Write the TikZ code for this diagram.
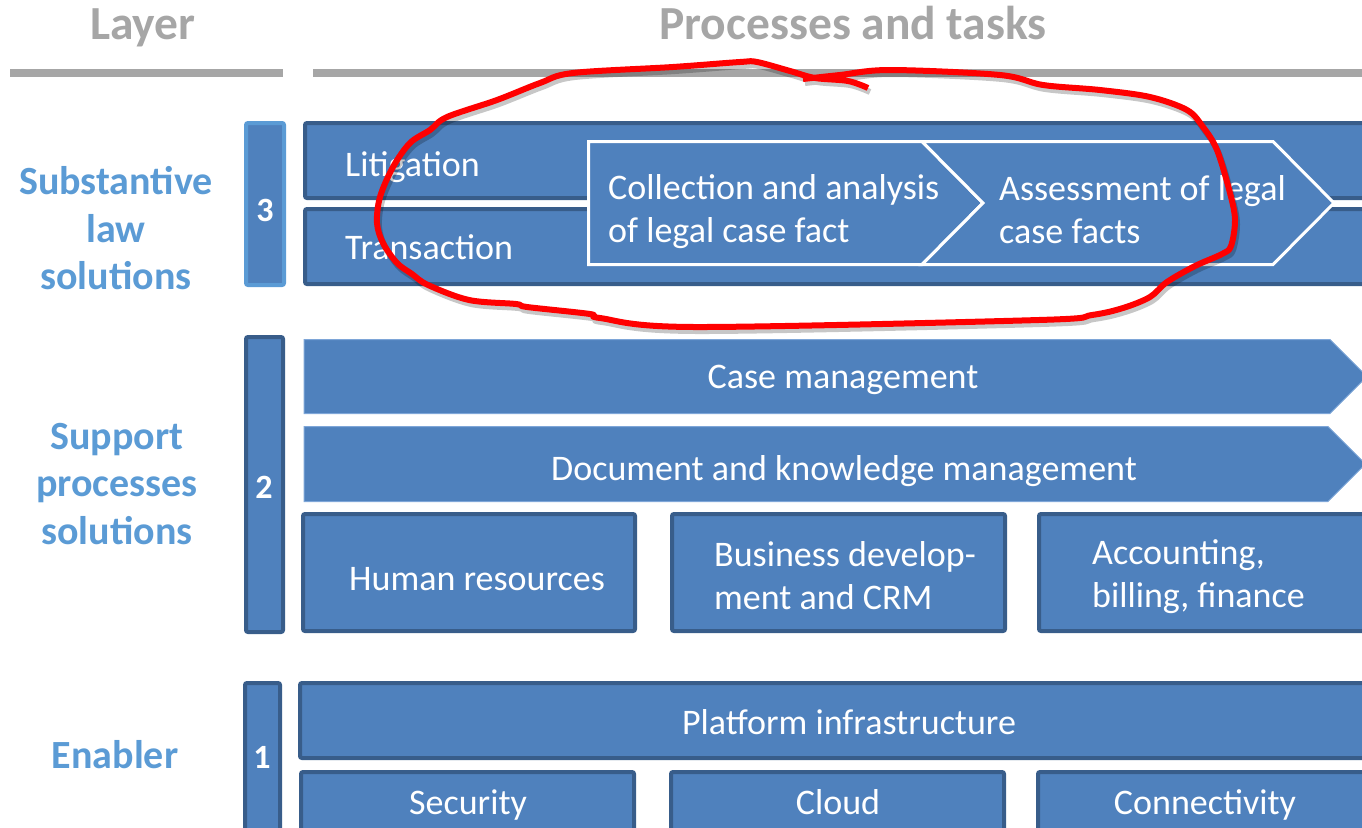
\documentclass[tikz,border=0pt]{standalone}
\usepackage{fontspec}
\setmainfont{Carlito}
\definecolor{bfill}{HTML}{4F81BD}
\definecolor{bdark}{HTML}{385D8A}
\definecolor{blight}{HTML}{5B9BD5}
\definecolor{bedge}{RGB}{126,166,216}
\definecolor{hgray}{HTML}{A6A6A6}
\definecolor{llabel}{HTML}{5B9BD5}
\tikzset{
  box/.style={draw=bdark, line width=4pt, fill=bfill, rounded corners=2pt},
  numbox/.style={draw=blight, line width=4pt, fill=bfill, rounded corners=2pt},
  chev/.style={draw=bedge, line width=1pt, fill=bfill},
  wchev/.style={draw=white, line width=3pt, fill=bfill, line join=miter},
  txt/.style={text=white, inner sep=0pt, font=\fontsize{36}{43.5}\selectfont},
  mtxt/.style={txt, align=left},
  num/.style={text=white, inner sep=0pt, font=\fontsize{34}{40}\selectfont\bfseries},
  head/.style={text=hgray, inner sep=0pt, font=\fontsize{47.5}{56}\selectfont\bfseries},
  layerlbl/.style={text=llabel, inner sep=0pt, align=center, font=\fontsize{40}{47.5}\selectfont\bfseries},
  rule/.style={draw=hgray, line width=8pt},
  redpen/.style={draw=red, line width=6pt, line join=round},
  redshadow/.style={draw=black, opacity=0.22, line width=6pt, line join=round}
}
\begin{document}
\begin{tikzpicture}[x=1pt,y=-1pt]
\useasboundingbox (0,0) rectangle (1362,827);
\clip (0,0) rectangle (1362,827);

% headers
\node[head, anchor=base] (hlayer) at (143,39) {Layer};
\node[head, anchor=base] (hproc) at (853,39) {Processes and tasks};
\draw[rule] (10,73) coordinate (r1a) -- (283,73) coordinate (r1b);
\draw[rule] (313,73) coordinate (r2a) -- (1362,73) coordinate (r2b);

% layer labels
\node[layerlbl] (l3) at (116,228.5) {Substantive\\law\\solutions};
\node[layerlbl] (l2) at (117,484) {Support\\processes\\solutions};
\node[layerlbl] (l1) at (115,755) {Enabler};

% ---------- layer 3 ----------
\path[numbox] (246,123) rectangle (284,285);
\node[num] (n3) at (265,210) {3};
\path[box] (305,123) rectangle (1380,198);
\path[box] (305,209) rectangle (1380,284);
\node[txt, anchor=base west] (lit) at (345,176) {Litigation};
\node[txt, anchor=base west] (tra) at (345,259) {Transaction};
\path[wchev] (588.5,141.5) -- (922,141.5) -- (983,203) -- (922,264.5) -- (588.5,264.5) -- cycle;
\path[wchev] (922,141.5) -- (1273,141.5) -- (1334,203) -- (1273,264.5) -- (922,264.5) -- (983,203) -- cycle;
\node[mtxt, anchor=west] (coll) at (608,211.5) {Collection and analysis\\of legal case fact};
\node[mtxt, anchor=west] (asse) at (999,209.5) {Assessment of legal\\case facts};

% ---------- layer 2 ----------
\path[box] (246,337) rectangle (283,632);
\node[num] (n2) at (264,487) {2};
\path[chev] (304,339.5) -- (1330,339.5) -- (1367,376.5) -- (1330,413.5) -- (304,413.5) -- cycle;
\path[chev] (304,426.5) -- (1328,426.5) -- (1365.5,464) -- (1328,501.5) -- (304,501.5) -- cycle;
\node[txt, anchor=base] (casem) at (843,388) {Case management};
\node[txt, anchor=base] (docm) at (844,480) {Document and knowledge management};
\path[box] (303,514) rectangle (635,631);
\path[box] (672,514) rectangle (1005,631);
\path[box] (1039,514) rectangle (1380,631);
\node[txt, anchor=base] (hr) at (477,590) {Human resources};
\node[mtxt, anchor=west] (bd) at (714,575.5) {Business develop-\\ment and CRM};
\node[mtxt, anchor=west] (acc) at (1092,576.5) {Accounting,\\billing, finance};

% ---------- layer 1 ----------
\path[box] (245,683) rectangle (280,840);
\node[num] (n1) at (262,757) {1};
\path[box] (300,683) rectangle (1380,758);
\node[txt, anchor=base] (plat) at (849,734) {Platform infrastructure};
\path[box] (301,772) rectangle (634,840);
\path[box] (671,772) rectangle (1004,840);
\path[box] (1038,772) rectangle (1380,840);
\node[txt, anchor=base] (sec) at (468,814) {Security};
\node[txt, anchor=base] (cloud) at (838,814) {Cloud};
\node[txt, anchor=base] (conn) at (1205,814) {Connectivity};

% ---------- red hand-drawn loop ----------
\def\redloop{plot[smooth, tension=0.55] coordinates {(868,88) (848,81) (815,78) (790,71) (757,62) (740,62) (673,67) (573,73) (540,83) (497,100) (447,117) (430,130) (410,143) (393,167) (380,197) (377,223) (383,243) (397,263) (412,274) (428,285) (469,300) (516,304) (527,307) (590,314) (600,318) (694,327) (1039,320) (1092,315) (1123,308) (1150,297) (1167,282) (1195,266) (1222,254) (1231,246) (1235,220) (1230,193) (1217,150) (1203,127) (1187,110) (1150,97) (1100,90) (1043,85) (1000,75) (890,70) (840,75) (803,79)}}
\draw[redshadow, shift={(2,4)}] \redloop;
\draw[redpen] \redloop;
\end{tikzpicture}
\end{document}
